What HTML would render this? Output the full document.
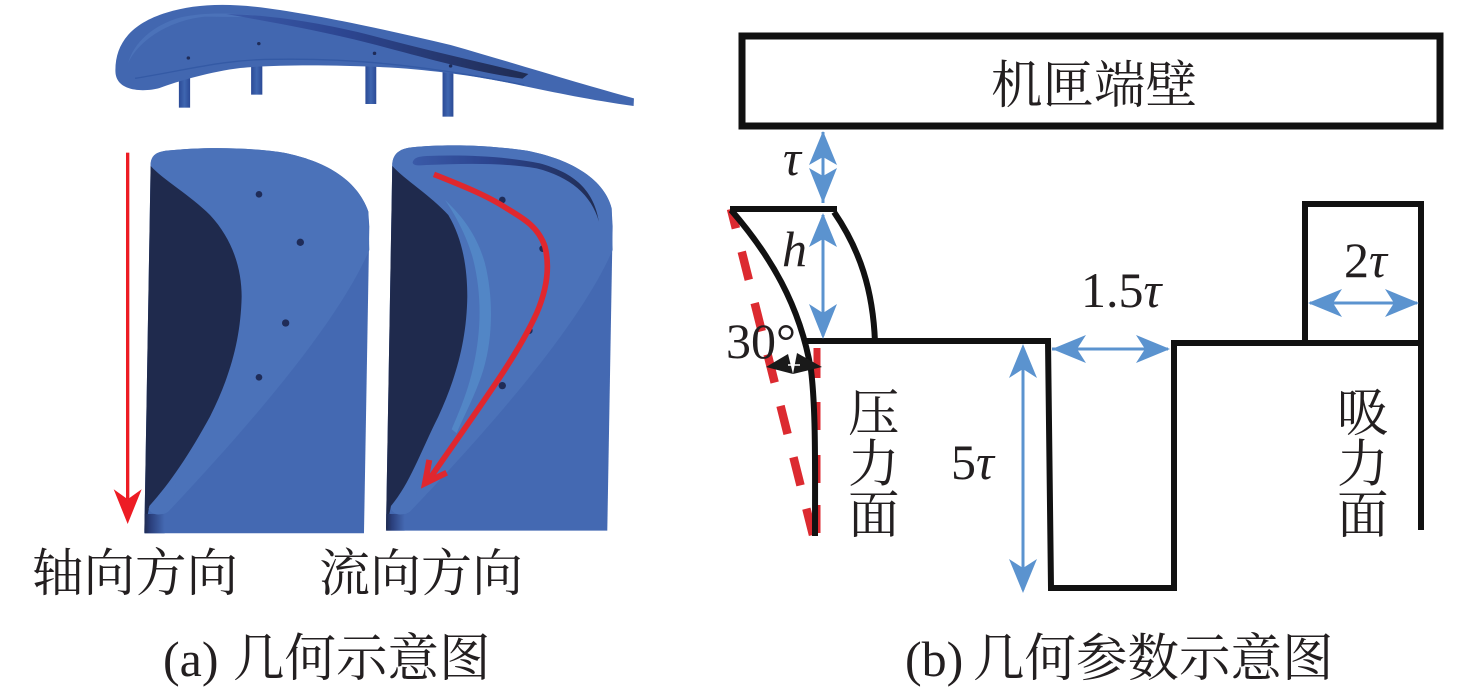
<!DOCTYPE html>
<html><head><meta charset="utf-8"><style>
html,body{margin:0;padding:0;background:#fff}
svg{display:block}
text{font-family:"Liberation Serif","Noto Serif CJK SC",serif;fill:#231f20;font-size:50px}
.c{font-size:51.5px}
.d{font-size:51px}
.i{font-style:italic}
</style></head><body>
<svg width="1476" height="690" viewBox="0 0 1476 690" xmlns="http://www.w3.org/2000/svg">
<defs>
<linearGradient id="fade" x1="0" x2="1"><stop offset="0" stop-color="#3a5aa8"/><stop offset=".4" stop-color="#2c4590"/><stop offset="1" stop-color="#202c52"/></linearGradient>
<linearGradient id="foot" x1="0" x2="1"><stop offset="0" stop-color="#202c52"/><stop offset=".3" stop-color="#2a3f7c"/><stop offset="1" stop-color="#4469b2"/></linearGradient>
<linearGradient id="cyl" x1="0" x2="1"><stop offset="0" stop-color="#2b4a96"/><stop offset=".5" stop-color="#3f66b0"/><stop offset="1" stop-color="#2b4a96"/></linearGradient>
</defs>

<!-- top blade view -->
<g transform="translate(100,0) scale(.3506,.3333)">
<rect x="225" y="225" width="32" height="98" fill="url(#cyl)"/>
<rect x="431" y="190" width="32" height="94" fill="url(#cyl)"/>
<rect x="757" y="190" width="31" height="122" fill="url(#cyl)"/>
<rect x="977" y="210" width="31" height="140" fill="url(#cyl)"/>
<path d="M44 215C42 130 90 70 190 38C270 12 360 8 480 25C620 45 800 85 1000 135C1200 195 1380 255 1523 295L1522 318C1400 300 1300 278 1200 256C1100 234 1000 216 850 204C700 195 520 192 400 204C320 214 220 244 170 264C130 276 46 278 44 215Z" fill="#4267b0"/>
<path d="M80 190C95 130 150 75 230 52C300 35 400 38 480 52L300 50C200 60 110 120 80 190Z" fill="#4b72b9"/>
<path d="M360 42C480 45 620 65 780 108C920 148 1080 185 1222 222L1205 236C1060 215 900 165 770 130C620 90 480 65 360 42Z" fill="url(#fade)"/>
<path d="M100 235C250 210 350 178 500 178C700 175 900 190 1210 255" fill="none" stroke="#345aa5" stroke-width="4"/>
<g fill="#1f2c58"><circle cx="252" cy="174" r="5"/><circle cx="453" cy="131" r="5"/><circle cx="783" cy="160" r="5"/><circle cx="1000" cy="198" r="5"/></g>
</g>

<!-- lower blades -->
<g transform="translate(110,140) scale(.3333)">
<!-- left -->
<path d="M122 70C125 45 140 36 170 32C280 20 420 22 520 38C640 62 740 115 775 215L778 260L762 1180L103 1180Z" fill="#4469b2"/>
<path d="M122 70C125 45 140 36 170 32C280 20 420 22 520 38C640 62 740 115 775 215L778 330C700 510 500 770 175 1115C155 1130 125 1125 115 1105Z" fill="#4b72b9"/>
<path d="M122 78C160 120 240 165 300 225C370 300 395 390 395 470C392 600 360 710 300 830C240 940 180 1030 118 1098L103 1180L122 70Z" fill="#1f2a4d"/>
<rect x="104" y="1122" width="60" height="58" fill="url(#foot)"/>
<path d="M116 1105C150 1060 170 1040 200 1000L190 1090L165 1118C145 1130 120 1122 116 1105Z" fill="#4b72b9"/>
<g fill="#1f2c58"><circle cx="447" cy="163" r="10"/><circle cx="571" cy="307" r="11"/><circle cx="527" cy="549" r="11"/><circle cx="447" cy="712" r="10"/></g>
<!-- right -->
<path d="M847 70C850 40 870 26 905 22C1000 12 1130 14 1250 32C1370 55 1480 110 1505 205L1508 260L1492 1172L828 1172Z" fill="#4469b2"/>
<path d="M847 70C850 40 870 26 905 22C1000 12 1130 14 1250 32C1370 55 1480 110 1505 205L1508 330C1430 510 1230 770 900 1115C880 1130 850 1125 842 1105Z" fill="#4b72b9"/>
<path d="M847 78C885 120 960 165 1015 225C1060 300 1072 390 1072 470C1070 600 1040 710 985 830C930 940 900 1030 843 1098L828 1172L847 70Z" fill="#1f2a4d"/>
<rect x="829" y="1122" width="55" height="50" fill="url(#foot)"/>
<path d="M843 1105C875 1060 900 1030 930 990L915 1090L890 1118C870 1130 848 1122 843 1105Z" fill="#4b72b9"/>
<path d="M908 68C912 52 925 50 950 48C1060 44 1180 48 1290 70C1380 95 1450 140 1467 245C1445 165 1380 110 1280 85C1180 68 1060 70 950 75C925 77 912 78 908 68Z" fill="url(#fade)"/>
<path d="M1005 180C1070 240 1105 300 1125 370C1150 470 1150 590 1120 690C1095 770 1060 830 1040 880L1025 868C1050 810 1075 750 1090 680C1115 570 1115 460 1090 360C1075 300 1040 230 1005 180Z" fill="#5286c6"/>
<g fill="#1f2c58"><circle cx="1177" cy="180" r="10"/><circle cx="1298" cy="326" r="10"/><circle cx="1258" cy="572" r="10"/><circle cx="1177" cy="737" r="11"/></g>
<path d="M972 103C1040 130 1130 165 1190 205C1240 235 1285 260 1305 320C1320 380 1310 450 1280 520C1220 650 1130 770 960 1015" fill="none" stroke="#e0272e" stroke-width="17"/>
<path d="M958 960L945 1030L1010 998" fill="none" stroke="#e0272e" stroke-width="18"/>
<!-- axial arrow -->
<rect x="48" y="38" width="10" height="1040" fill="#ed1c24"/>
<path d="M11 1048L53 1078L95 1048L53 1152Z" fill="#ed1c24"/>
</g>

<text class="c" x="32" y="591">轴向方向</text>
<text class="d" x="319" y="591">流向方向</text>
<text x="163" y="676">(a) <tspan class="c" x="233">几何示意图</tspan></text>
<text x="905" y="676">(b) <tspan class="c" x="973">几何参数示意图</tspan></text>

<!-- right diagram -->
<rect x="742" y="36" width="698" height="90" fill="none" stroke="#111" stroke-width="7"/>
<text class="c" x="991" y="103">机匣端壁</text>

<path d="M731 209L813 535" fill="none" stroke="#dc2a30" stroke-width="8.5" stroke-dasharray="29 24" stroke-dashoffset="9"/>
<path d="M817 348V378M817 402V430M817 455V483M817 505V533" fill="none" stroke="#dc2a30" stroke-width="7"/>

<g fill="none" stroke="#111" stroke-width="6">
<path d="M730 209H837"/>
<path d="M731 210C770 255 800 305 811 370C816 410 815 470 815 536"/>
<path d="M834 212C860 250 873 290 875 342"/>
<path d="M806 341H1048L1051 588H1174V343H1421"/>
<path d="M1305 343V204H1421V530"/>
</g>

<g stroke="#5b93cf" stroke-width="3" fill="none">
<path d="M823 132V203M823 215V336M1023 350V590M1052 349H1168M1310 303H1417"/>
</g>
<g fill="#5b93cf">
<path d="M823 131L837 165L823 157L809 165Z"/><path d="M823 203L837 168L823 176L809 168Z"/>
<path d="M823 213L837 247L823 239L809 247Z"/><path d="M823 339L837 304L823 313L809 304Z"/>
<path d="M1023 344L1037 378L1023 369L1009 378Z"/><path d="M1023 593L1037 559L1023 568L1009 559Z"/>
<path d="M1052 349L1086 335L1077 349L1086 363Z"/><path d="M1170 349L1136 335L1145 349L1136 363Z"/>
<path d="M1308 303L1342 289L1333 303L1342 317Z"/><path d="M1419 303L1385 289L1394 303L1385 317Z"/>
</g>

<g fill="#1a1a1a">
<path d="M766 367L788 354L793 374Z"/><path d="M822 367L797 353L793 374Z"/>
</g>
<path d="M788 365H800" stroke="#fff" stroke-width="1.5"/>

<text class="i" x="783" y="175">τ</text>
<text class="i" x="782" y="266">h</text>
<text x="726" y="358">30°</text>
<text class="c" x="848" y="431">压</text>
<text class="c" x="848" y="482">力</text>
<text class="c" x="848" y="533">面</text>
<text class="c" x="1337" y="431">吸</text>
<text class="c" x="1337" y="482">力</text>
<text class="c" x="1337" y="533">面</text>
<text x="951" y="479">5<tspan class="i">τ</tspan></text>
<text x="1081" y="307">1.5<tspan class="i">τ</tspan></text>
<text x="1344" y="277">2<tspan class="i">τ</tspan></text>
</svg>
</body></html>
